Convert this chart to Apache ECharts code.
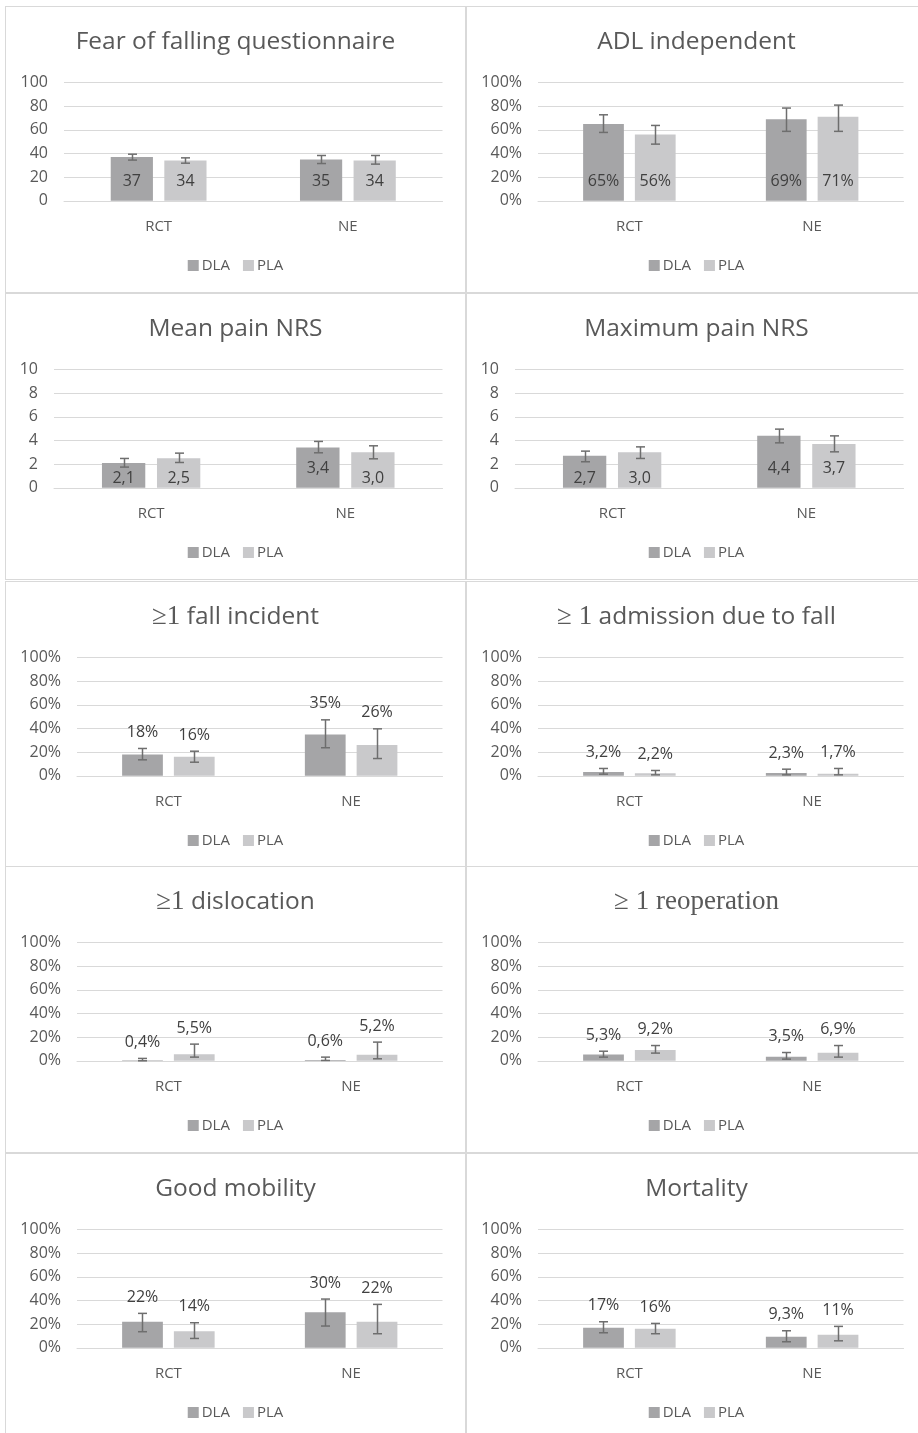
<!DOCTYPE html>
<html>
<head>
<meta charset="utf-8">
<script src="https://cdn.jsdelivr.net/npm/echarts@6/dist/echarts.min.js"></script>
<style>
  html, body { margin: 0; padding: 0; background: #fff; width: 918px; height: 1433px; overflow: hidden; position: relative; }
  .panel { position: absolute; box-sizing: border-box; border: 1px solid #d9d9d9; width: 461px; height: 287px; background: #fff; }
  .chart { position: absolute; left: 0; top: 0; width: 459px; height: 285px; }
</style>
</head>
<body>
<script>
// ---- shared labels ----
const categories = ['RCT', 'NE'];
const groups = ['DLA', 'PLA'];
const percentTicks = ['0%', '20%', '40%', '60%', '80%', '100%'];

// ---- panel titles ({m|...} marks the math-font part) ----
const titles = [
  'Fear of falling questionnaire',
  'ADL independent',
  'Mean pain NRS',
  'Maximum pain NRS',
  '{m|≥1} fall incident',
  '{m|≥ 1} admission due to fall',
  '{m|≥1} dislocation',
  '{m|≥ 1 reoperation}',
  'Good mobility',
  'Mortality'
];

// ---- values: [RCT, NE]; CI as [low, high] per category ----
const fearDLA = [37, 35];
const fearPLA = [34, 34];
const fearDLACI = [[34.4, 39.4], [31.5, 38.3]];
const fearPLACI = [[31.8, 36.3], [31.0, 38.3]];

const adlDLA = [65, 69];
const adlPLA = [56, 71];
const adlDLACI = [[57.8, 72.7], [58.7, 78.4]];
const adlPLACI = [[47.9, 63.7], [58.7, 80.9]];

const meanPainDLA = [2.1, 3.4];
const meanPainPLA = [2.5, 3.0];
const meanPainDLACI = [[1.75, 2.48], [2.96, 3.92]];
const meanPainPLACI = [[2.14, 2.93], [2.45, 3.55]];

const maxPainDLA = [2.7, 4.4];
const maxPainPLA = [3.0, 3.7];
const maxPainDLACI = [[2.2, 3.1], [3.8, 4.96]];
const maxPainPLACI = [[2.48, 3.46], [3.04, 4.39]];

const fallDLA = [18, 35];
const fallPLA = [16, 26];
const fallDLACI = [[13.5, 23.1], [23.7, 47.3]];
const fallPLACI = [[11.5, 20.8], [14.6, 39.7]];

const admissionDLA = [3.2, 2.3];
const admissionPLA = [2.2, 1.7];
const admissionDLACI = [[1.4, 6.2], [0.8, 5.6]];
const admissionPLACI = [[0.8, 4.5], [0.8, 6.2]];

const dislocationDLA = [0.4, 0.6];
const dislocationPLA = [5.5, 5.2];
const dislocationDLACI = [[0.0, 2.0], [0.3, 3.1]];
const dislocationPLACI = [[3.1, 14.1], [1.7, 15.8]];

const reoperationDLA = [5.3, 3.5];
const reoperationPLA = [9.2, 6.9];
const reoperationDLACI = [[3.1, 8.1], [1.4, 7.0]];
const reoperationPLACI = [[6.5, 12.9], [3.1, 12.9]];

const mobilityDLA = [22, 30];
const mobilityPLA = [14, 22];
const mobilityDLACI = [[13.6, 29.1], [18.4, 41.2]];
const mobilityPLACI = [[7.9, 21.2], [11.9, 36.7]];

const mortalityDLA = [17, 9.3];
const mortalityPLA = [16, 11];
const mortalityDLACI = [[12.7, 22.0], [5.1, 14.4]];
const mortalityPLACI = [[11.9, 20.6], [5.9, 18.1]];

// ---- value formatters (comma decimal) ----
const comma = (v, d) => v.toFixed(d).replace('.', ',');
const fmtInt = v => String(Math.round(v));
const fmtPct = v => Math.round(v) + '%';
const fmtOneDec = v => comma(v, 1);
const fmtEvent = v => (v < 10 ? comma(v, 1) : String(Math.round(v))) + '%';

// ---- panel definitions ----
const panels = [
  { dla: fearDLA, pla: fearPLA, dlaCI: fearDLACI, plaCI: fearPLACI, max: 100, step: 20, axis: 'num3', fmt: fmtInt, label: 'base' },
  { dla: adlDLA, pla: adlPLA, dlaCI: adlDLACI, plaCI: adlPLACI, max: 100, step: 20, axis: 'pct', fmt: fmtPct, label: 'base' },
  { dla: meanPainDLA, pla: meanPainPLA, dlaCI: meanPainDLACI, plaCI: meanPainPLACI, max: 10, step: 2, axis: 'num2', fmt: fmtOneDec, label: 'base' },
  { dla: maxPainDLA, pla: maxPainPLA, dlaCI: maxPainDLACI, plaCI: maxPainPLACI, max: 10, step: 2, axis: 'num2', fmt: fmtOneDec, label: 'base' },
  { dla: fallDLA, pla: fallPLA, dlaCI: fallDLACI, plaCI: fallPLACI, max: 100, step: 20, axis: 'pct', fmt: fmtEvent, label: 'above' },
  { dla: admissionDLA, pla: admissionPLA, dlaCI: admissionDLACI, plaCI: admissionPLACI, max: 100, step: 20, axis: 'pct', fmt: fmtEvent, label: 'above' },
  { dla: dislocationDLA, pla: dislocationPLA, dlaCI: dislocationDLACI, plaCI: dislocationPLACI, max: 100, step: 20, axis: 'pct', fmt: fmtEvent, label: 'above' },
  { dla: reoperationDLA, pla: reoperationPLA, dlaCI: reoperationDLACI, plaCI: reoperationPLACI, max: 100, step: 20, axis: 'pct', fmt: fmtEvent, label: 'above' },
  { dla: mobilityDLA, pla: mobilityPLA, dlaCI: mobilityDLACI, plaCI: mobilityPLACI, max: 100, step: 20, axis: 'pct', fmt: fmtEvent, label: 'above' },
  { dla: mortalityDLA, pla: mortalityPLA, dlaCI: mortalityDLACI, plaCI: mortalityPLACI, max: 100, step: 20, axis: 'pct', fmt: fmtEvent, label: 'above' }
];

// ---- style ----
const FONT = "'Open Sans', 'Noto Sans', sans-serif";
const MATH_FONT = "'Liberation Serif', 'DejaVu Serif', serif";
const TEXT = '#595959';
const LABEL = '#404040';
const GRID_LINE = '#d9d9d9';
const COLORS = { DLA: '#a5a5a7', PLA: '#c9c9cb' };
const WHISKER = '#6e6e6e';
const BAR_FRAC = 0.223;   // bar width as share of the category band
const GAP_FRAC = 0.27;    // gap between paired bars, share of bar width
const AXIS_LEFT = { num3: 58, num2: 48, pct: 71 };

const colX = [5, 466];
const rowY = [6, 293, 581, 866, 1153];

// Error whiskers plus value labels: labels sit either near the bar base
// (dropped lower when the whisker reaches into them) or above the whisker top.
function whiskerSeries(p) {
  const data = [];
  [p.dlaCI, p.plaCI].forEach((ci, g) => {
    const vals = g === 0 ? p.dla : p.pla;
    ci.forEach((lohi, i) => data.push([i, lohi[0], lohi[1], vals[i], g]));
  });
  return {
    type: 'custom',
    name: 'ci',
    z: 5,
    silent: true,
    data: data,
    renderItem: function (params, api) {
      const ci = api.value(0), lo = api.value(1), hi = api.value(2), v = api.value(3), g = api.value(4);
      const band = api.size([1, 0])[0];
      const bw = band * BAR_FRAC;
      const shift = (bw * (1 + GAP_FRAC)) / 2 * (g === 0 ? -1 : 1);
      const pLo = api.coord([ci, lo]);
      const pHi = api.coord([ci, hi]);
      const pBase = api.coord([ci, 0]);
      const xc = pLo[0] + shift;
      const x = Math.round(xc) + 0.5;
      const cap = 4.5;
      const ls = { stroke: WHISKER, lineWidth: 1.5 };
      const children = [
        { type: 'line', shape: { x1: x, y1: pLo[1], x2: x, y2: pHi[1] }, style: ls },
        { type: 'line', shape: { x1: x - cap, y1: pLo[1], x2: x + cap, y2: pLo[1] }, style: ls },
        { type: 'line', shape: { x1: x - cap, y1: pHi[1], x2: x + cap, y2: pHi[1] }, style: ls }
      ];
      let ly;
      if (p.label === 'above') {
        ly = pHi[1] - 16;
      } else {
        ly = pBase[1] - 19;
        if (pLo[1] > ly - 11) ly = pBase[1] - 9;
      }
      children.push({
        type: 'text', x: xc, y: ly,
        style: { text: p.fmt(v), align: 'center', verticalAlign: 'middle', fontSize: 16, fontFamily: FONT, fill: LABEL }
      });
      return { type: 'group', children: children };
    }
  };
}

function barSeries(name, values) {
  return {
    type: 'bar',
    name: name,
    data: values,
    barWidth: (BAR_FRAC * 100) + '%',
    barGap: (GAP_FRAC * 100) + '%',
    itemStyle: { color: COLORS[name] }
  };
}

panels.forEach((p, k) => {
  const box = document.createElement('div');
  box.className = 'panel';
  box.style.left = colX[k % 2] + 'px';
  box.style.top = rowY[Math.floor(k / 2)] + 'px';
  const el = document.createElement('div');
  el.className = 'chart';
  box.appendChild(el);
  document.body.appendChild(box);

  const chart = echarts.init(el, null, { renderer: 'canvas', width: 459, height: 285 });
  const left = AXIS_LEFT[p.axis];
  chart.setOption({
    animation: false,
    title: {
      text: titles[k],
      left: 'center',
      top: 21,
      padding: 0,
      textStyle: {
        fontFamily: FONT, fontSize: 24.5, fontWeight: 'normal', color: TEXT, lineHeight: 28,
        rich: { m: { fontFamily: MATH_FONT, fontSize: 27, color: TEXT, lineHeight: 28 } }
      }
    },
    legend: {
      data: groups,
      top: 251,
      left: 'center',
      padding: 0,
      icon: 'rect',
      itemWidth: 11,
      itemHeight: 11,
      itemGap: 13,
      selectedMode: false,
      textStyle: { fontFamily: FONT, fontSize: 15, color: TEXT, padding: [0, 0, 0, -2] }
    },
    grid: { left: left, right: 22.5, top: 75.5, height: 118.3 },
    xAxis: {
      type: 'category',
      data: categories,
      axisLine: { show: true, lineStyle: { color: GRID_LINE, width: 1 } },
      axisTick: { show: false },
      axisLabel: { color: TEXT, fontFamily: FONT, fontSize: 15, margin: 18 }
    },
    yAxis: {
      type: 'value',
      min: 0,
      max: p.max,
      interval: p.step,
      axisLine: { show: false },
      axisTick: { show: false },
      splitLine: { lineStyle: { color: GRID_LINE, width: 1 } },
      axisLabel: {
        color: TEXT, fontFamily: FONT, fontSize: 16, margin: 16,
        formatter: p.axis === 'pct' ? (v => percentTicks[Math.round(v / p.step)]) : '{value}'
      }
    },
    series: [
      barSeries('DLA', p.dla),
      barSeries('PLA', p.pla),
      whiskerSeries(p)
    ]
  });
});
</script>
</body>
</html>
